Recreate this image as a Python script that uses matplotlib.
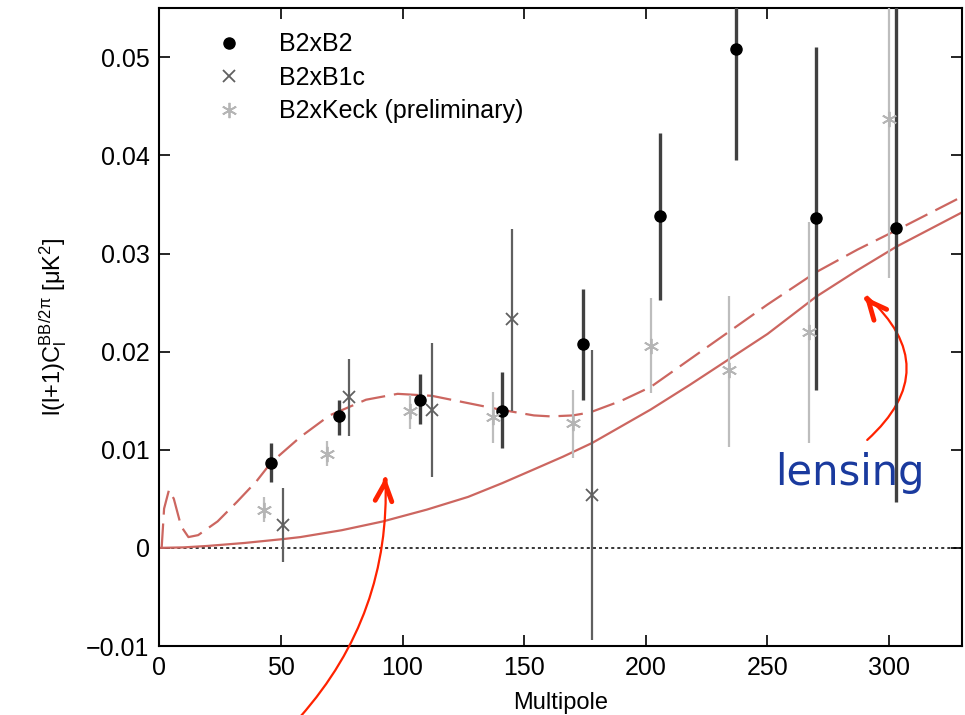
import matplotlib
matplotlib.use("Agg")
import matplotlib.pyplot as plt

plt.rcParams['font.family'] = ['Liberation Sans', 'DejaVu Sans']
plt.rcParams['mathtext.fontset'] = 'custom'
plt.rcParams['mathtext.rm'] = 'Liberation Sans'
plt.rcParams['mathtext.it'] = 'Liberation Sans'

# B2xB2 bandpowers (value, lower and upper end of error bar)
b2_ell = [46, 74, 107, 141, 174, 206, 237, 270, 303]
b2_val = [0.0087, 0.0134, 0.0151, 0.0140, 0.0208, 0.0338, 0.0508, 0.0336, 0.0326]
b2_lo = [0.0067, 0.0115, 0.0126, 0.0102, 0.0151, 0.0253, 0.0395, 0.0161, 0.0047]
b2_hi = [0.0107, 0.0151, 0.0177, 0.0179, 0.0264, 0.0423, 0.0620, 0.0510, 0.0650]

# B2xB1c
b1_ell = [51, 78, 112, 145, 178]
b1_val = [0.0023, 0.0154, 0.0141, 0.0233, 0.0054]
b1_lo = [-0.0014, 0.0114, 0.0072, 0.0139, -0.0094]
b1_hi = [0.0061, 0.0192, 0.0209, 0.0325, 0.0202]

# B2xKeck (preliminary)
kk_ell = [43, 69, 103, 137, 170, 202, 234, 267, 300]
kk_val = [0.0039, 0.0096, 0.0140, 0.0133, 0.0127, 0.0206, 0.0181, 0.0220, 0.0437]
kk_lo = [0.0026, 0.0083, 0.0121, 0.0107, 0.0092, 0.0158, 0.0103, 0.0107, 0.0275]
kk_hi = [0.0052, 0.0109, 0.0156, 0.0159, 0.0161, 0.0255, 0.0257, 0.0332, 0.0620]

# lensing model (solid) and lensing + r=0.2 (dashed)
lens_ell = [0, 10, 20, 35, 51, 58, 75, 92, 110, 127, 141, 154, 166, 178, 190, 202,
            218, 234, 250, 270, 287, 303, 330]
lens_val = [0, 0.00005, 0.0002, 0.0005, 0.0009, 0.0011, 0.0018, 0.0027, 0.0039, 0.0052,
            0.0066, 0.0080, 0.0093, 0.0107, 0.0124, 0.0141, 0.0166, 0.0192, 0.0218,
            0.0256, 0.0283, 0.0307, 0.0342]
tot_ell = [1, 2, 4, 6, 9, 12, 16, 24, 32, 40, 46, 58, 70, 85, 98, 112, 126, 140, 154,
           161, 170, 177, 190, 202, 218, 234, 250, 270, 287, 304, 330]
tot_val = [0.0000, 0.0040, 0.0059, 0.0050, 0.0022, 0.0011, 0.0013, 0.0027, 0.0047, 0.0068,
           0.0087, 0.0113, 0.0135, 0.0151, 0.0157, 0.0155, 0.0148, 0.0141, 0.0135,
           0.0134, 0.0135, 0.0138, 0.0150, 0.0164, 0.0192, 0.0220, 0.0248, 0.0281,
           0.0304, 0.0325, 0.0358]

x_ticks = [0, 50, 100, 150, 200, 250, 300]
y_ticks = [-0.01, 0, 0.01, 0.02, 0.03, 0.04, 0.05]
y_labels = ['\u22120.01', '0', '0.01', '0.02', '0.03', '0.04', '0.05']


def bars(lo, hi, val):
    return [[v - l for v, l in zip(val, lo)], [h - v for v, h in zip(val, hi)]]


fig = plt.figure(figsize=(9.65, 7.15), dpi=100)
ax = fig.add_axes([0.165, 0.0965, 0.832, 0.892])

curve_col = '#cc6660'
ax.plot(lens_ell, lens_val, color=curve_col, lw=1.6, zorder=2)
ax.plot(tot_ell, tot_val, color=curve_col, lw=1.6, dashes=(11, 4), zorder=2)
ax.axhline(0, color='black', lw=1.1, dashes=(2, 2), zorder=1)

# error bars first, markers on top (legend shows markers only)
ax.errorbar(kk_ell, kk_val, yerr=bars(kk_lo, kk_hi, kk_val), fmt='none',
            ecolor='#bdbdbd', elinewidth=1.6, capsize=0, zorder=3)
ax.errorbar(b1_ell, b1_val, yerr=bars(b1_lo, b1_hi, b1_val), fmt='none',
            ecolor='#606060', elinewidth=1.6, capsize=0, zorder=3)
ax.errorbar(b2_ell, b2_val, yerr=bars(b2_lo, b2_hi, b2_val), fmt='none',
            ecolor='#404040', elinewidth=2.4, capsize=0, zorder=4)

ax.plot(b2_ell, b2_val, 'o', color='black', ms=8, ls='none', label='B2xB2', zorder=5)
ax.plot(b1_ell, b1_val, 'x', color='#606060', ms=8, mew=1.3, ls='none', label='B2xB1c', zorder=5)
ax.plot(kk_ell, kk_val, marker=(6, 2, 0), color='#b5b5b5', ms=11, mew=1.3, ls='none',
        label='B2xKeck (preliminary)', zorder=5)

ax.set_xlim(0, 330)
ax.set_ylim(-0.01, 0.055)
ax.set_xticks(x_ticks)
ax.set_yticks(y_ticks)
ax.set_yticklabels(y_labels)
ax.tick_params(direction='in', length=8, width=1.2, labelsize=18, pad=7,
               top=True, right=True)
for s in ax.spines.values():
    s.set_linewidth(1.5)

ax.set_xlabel('Multipole', fontsize=17, labelpad=9)
ax.set_ylabel(r'l(l+1)C$_\mathrm{l}^\mathrm{BB}$$^\mathrm{/2\pi}$ [$\mathrm{\mu}$K$^\mathrm{2}$]',
              fontsize=17, labelpad=12)

ax.legend(loc='upper left', bbox_to_anchor=(0.071, 0.962), frameon=False, fontsize=18,
          handlelength=1.0, handletextpad=1.5, labelspacing=0.38, borderpad=0,
          borderaxespad=0)

# hand-drawn style annotations: thin curved shaft + thick chevron head
red = '#ff2200'
shaft = dict(arrowstyle='-', color=red, lw=1.6, shrinkA=0, shrinkB=0)
head = dict(arrowstyle='->,head_length=1.3,head_width=0.6', color=red, lw=3.5,
            shrinkA=0, shrinkB=0, capstyle='round', joinstyle='round')
ax.annotate('', xy=(291, 0.0256), xytext=(291, 0.0110),
            arrowprops=dict(shaft, connectionstyle='arc3,rad=0.55'))
ax.annotate('', xy=(290, 0.0256), xytext=(1.2, -1.4), textcoords='offset points',
            arrowprops=head)
ax.annotate('', xy=(93, 0.0071), xytext=(58, -0.0172), annotation_clip=False,
            arrowprops=dict(shaft, connectionstyle='arc3,rad=0.2'))
ax.annotate('', xy=(93, 0.0072), xytext=(-0.15, -1.8), textcoords='offset points',
            arrowprops=head)
ax.text(284, 0.0064, 'lensing', color='#1a3a9e', fontsize=30, ha='center',
        va='baseline', family='DejaVu Sans')

fig.savefig('out.png', dpi=100)
